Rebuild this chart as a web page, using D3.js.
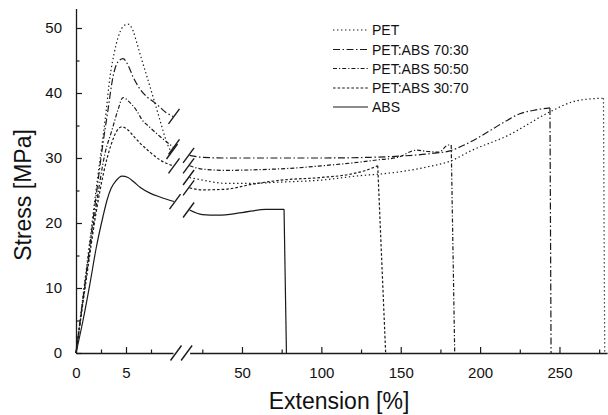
<!DOCTYPE html>
<html>
<head>
<meta charset="utf-8">
<script src="https://cdn.jsdelivr.net/npm/d3@7"></script>
<style>
  body { margin: 0; background: #fff; }
  svg { display: block; font-family: Arial, "Liberation Sans", sans-serif; }
</style>
</head>
<body>
<svg id="chart" width="608" height="415"></svg>
<script>
// series names, in legend order
const seriesNames = ["PET", "PET:ABS 70:30", "PET:ABS 50:50", "PET:ABS 30:70", "ABS"];

// [extension %, stress MPa] before the axis break (0 - 10 %)
const petLow = [[0,0],[1,12.5],[2,25],[3,37],[3.4,42.5],[3.8,46],[4.2,48.5],[4.7,50.2],[5.2,50.6],[5.7,49.6],[6.1,47.6],[6.6,45],[7.1,42.5],[7.9,38.4],[8.4,35.8],[9.1,32.3],[9.5,31]];
const pet7030Low = [[0,0],[1,12],[2,24],[2.7,32.3],[3.2,37.4],[3.7,42.5],[4.2,44.8],[4.7,45.3],[5.2,44.3],[5.7,42.5],[6.4,40.6],[7.1,39.4],[7.8,38.6],[8.4,37.8],[9,37],[9.7,36.4]];
const pet5050Low = [[0,0],[1,11.5],[2,22.5],[2.9,30.7],[3.6,34.3],[4.2,37.4],[4.7,39.3],[5.2,38.8],[6.1,37.2],[6.6,35.9],[7.4,34.7],[8.4,33.3],[9.7,31.7]];
const pet3070Low = [[0,0],[1,11],[2,21.5],[2.8,28],[3.5,32],[4.1,34.2],[4.6,34.8],[5.2,34.3],[5.8,33.3],[6.4,32.3],[7.4,30.9],[8.4,29.7],[9.7,28.8]];
const absLow = [[0,0],[0.7,5],[1.4,10.7],[2,16],[2.7,21],[3.1,23.5],[3.5,25.3],[4,26.5],[4.6,27.2],[5.2,27],[5.8,26.3],[6.4,25.5],[7.4,24.6],[8.4,24],[9.8,23.3]];

// [extension %, stress MPa] after the break, last point = break
const petHigh = [[17,27],[25,26.6],[40,26.1],[55,26.1],[75,26.3],[100,26.6],[125,27.3],[140,27.6],[150,27.9],[168,28.7],[181,29.5],[195,31.2],[217,33.4],[244,37.1],[259,38.7],[270,39.1],[277.7,39.2],[278.5,0]];
const pet7030High = [[17,30.4],[25,30.1],[40,30],[70,30],[100,30],[130,30.1],[150,30.3],[170,30.7],[181,31.1],[190,32],[200,33.3],[215,35.5],[225,36.8],[235,37.4],[244,37.7],[244.7,0]];
const pet5050High = [[17,28.8],[25,28.3],[40,28.1],[60,28.2],[86,28.5],[100,28.8],[118,29.2],[135,29.7],[148,30.1],[160,31.2],[167,31],[174,30.9],[180,32],[181.8,32],[184,0]];
const pet3070High = [[17,25.4],[25,25.1],[40,25.2],[55,25.9],[75,26.6],[100,27],[118,27.5],[128,28.1],[135.5,28.8],[140.5,0]];
const absHigh = [[17,22],[25,21.3],[35,21.2],[50,21.6],[65,22.1],[76.5,22.1],[78,0]];

const lowTicks = [0, 5];
const lowMinor = [2.5, 7.5];
const highTicks = [50, 100, 150, 200, 250];
const highMinor = [25, 75, 125, 175, 225, 275];
const yTicks = [0, 10, 20, 30, 40, 50];
const yMinor = [5, 15, 25, 35, 45];

const dashes = ["1.4,2.6", "7,2.5,1.5,2.5", "4,2,1.2,2", "2.6,2", null];
const lows = [petLow, pet7030Low, pet5050Low, pet3070Low, absLow];
const highs = [petHigh, pet7030High, pet5050High, pet3070High, absHigh];

const svg = d3.select("#chart");
const ink = "#1a1a1a";

const xL = d3.scaleLinear().domain([0, 9.7]).range([76, 173]);
const xR = d3.scaleLinear().domain([17, 280]).range([189.6, 607.1]);
const y = d3.scaleLinear().domain([0, 53]).range([353, 8.5]);

// axes
function styleAxis(g) {
    g.selectAll("path").attr("stroke", ink).attr("stroke-width", 1.3);
    g.selectAll("line").attr("stroke", ink).attr("stroke-width", 1.2);
    g.selectAll("text").attr("fill", "#111").style("font-size", "15px").style("font-family", "Arial, 'Liberation Sans', sans-serif");
}

const yAxis = svg.append("g").attr("transform", "translate(76,0)")
    .call(d3.axisLeft(y).tickValues(yTicks).tickSizeInner(-6).tickSizeOuter(0).tickPadding(14));
styleAxis(yAxis);
svg.append("g").attr("transform", "translate(76,0)")
    .call(d3.axisLeft(y).tickValues(yMinor).tickSize(-3.5).tickFormat(""))
    .call(g => g.select("path").remove())
    .call(styleAxis);

const xAxisL = svg.append("g").attr("transform", "translate(0,353)")
    .call(d3.axisBottom(xL).tickValues(lowTicks).tickSizeInner(-6).tickSizeOuter(0).tickPadding(14));
styleAxis(xAxisL);
svg.append("g").attr("transform", "translate(0,353)")
    .call(d3.axisBottom(xL).tickValues(lowMinor).tickSize(-3.5).tickFormat(""))
    .call(g => g.select("path").remove())
    .call(styleAxis);

const xAxisR = svg.append("g").attr("transform", "translate(0,353)")
    .call(d3.axisBottom(xR).tickValues(highTicks).tickSizeInner(-6).tickSizeOuter(0).tickPadding(14));
styleAxis(xAxisR);
svg.append("g").attr("transform", "translate(0,353)")
    .call(d3.axisBottom(xR).tickValues(highMinor).tickSize(-3.5).tickFormat(""))
    .call(g => g.select("path").remove())
    .call(styleAxis);

// break slash helper
function slash(cx, cy) {
    svg.append("line")
        .attr("x1", cx - 5.5).attr("y1", cy + 7.5)
        .attr("x2", cx + 5.5).attr("y2", cy - 7.5)
        .attr("stroke", ink).attr("stroke-width", 1.4);
}
slash(xL.range()[1] + 3, 353);
slash(xR.range()[0] - 3, 353);

// curves
const line = (sx) => d3.line().x(d => sx(d[0])).y(d => y(d[1])).curve(d3.curveMonotoneX);
const straight = d3.line().x(d => xR(d[0])).y(d => y(d[1]));

seriesNames.forEach((name, i) => {
    const g = svg.append("g").attr("fill", "none").attr("stroke", ink).attr("stroke-width", 1.2);
    const low = lows[i];
    const high = highs[i];
    const body = high.slice(0, -1);
    const drop = high.slice(-2);
    [
        g.append("path").datum(low).attr("d", line(xL)),
        g.append("path").datum(body).attr("d", line(xR)),
        g.append("path").datum(drop).attr("d", straight)
    ].forEach(p => { if (dashes[i]) p.attr("stroke-dasharray", dashes[i]); });

    const a = low[low.length - 1];
    slash(xL(a[0]) + 1, y(a[1]));
    const b = high[0];
    slash(xR(b[0]) - 1, y(b[1]));
});

// legend
const legendY = [30, 49.5, 68.5, 88, 107];
seriesNames.forEach((name, i) => {
    const l = svg.append("line")
        .attr("x1", 333).attr("x2", 368)
        .attr("y1", legendY[i]).attr("y2", legendY[i])
        .attr("stroke", ink).attr("stroke-width", 1.2);
    if (dashes[i]) l.attr("stroke-dasharray", dashes[i]);
    svg.append("text")
        .attr("x", 372).attr("y", legendY[i] + 5)
        .attr("fill", "#111")
        .style("font-size", "14px")
        .text(name);
});

// axis titles
svg.append("text")
    .attr("transform", "translate(31,195) rotate(-90)")
    .attr("text-anchor", "middle")
    .attr("fill", "#111")
    .style("font-size", "23px")
    .text("Stress [MPa]");

svg.append("text")
    .attr("x", 339).attr("y", 409)
    .attr("text-anchor", "middle")
    .attr("fill", "#111")
    .style("font-size", "23px")
    .text("Extension [%]");
</script>
</body>
</html>
